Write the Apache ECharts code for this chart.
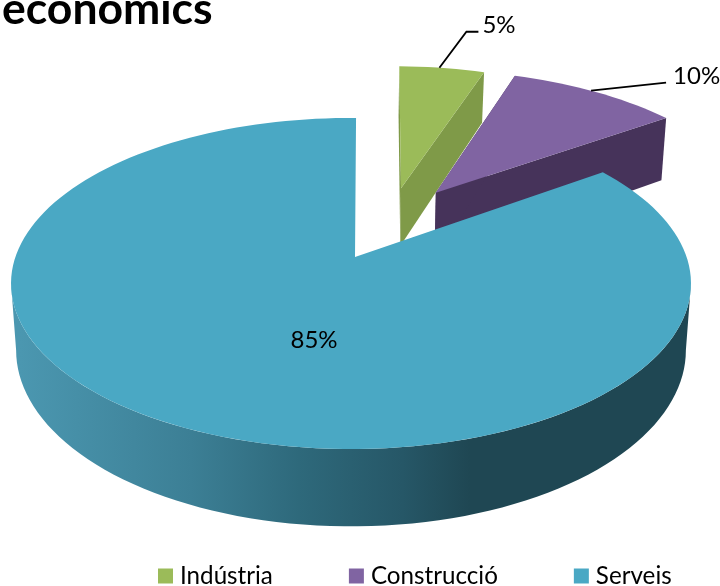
<!DOCTYPE html>
<html><head><meta charset="utf-8">
<script src="https://cdn.jsdelivr.net/npm/echarts@6/dist/echarts.min.js"></script>
<style>html,body{margin:0;padding:0;background:#fff}#c{width:720px;height:586px}</style></head>
<body><div id="c"></div>
<script>
const titleText = 'economics';
const categories = ['Indústria', 'Construcció', 'Serveis'];
const values = [5, 10, 85];
const topColors = ['#9bbb59', '#8064a2', '#4aa8c4'];
const wallColors = ['#7f9a48', '#46335a', '#1f4753'];

// Perspective layout of the pie
const CX = 351, CY = 257, RX = 335.6, RY = 161.3, P = 0.16, SHRINK = 0.985, START = 1;
const explodeX = [0.16, 0.27, 0];
const explodeY = [-0.458, -0.425, 0];
const apexShift = [0, 0, 4];
const depth = [62, 72, 65];
const labelFont = 'Lato';
const leaderAt = [0.47, 0.47, 0];
const elbows = [[[27, -36], [12, 0]], [[75, -8], [0, 0]], null];
const labelGap = [4, 7, 0];

const total = values.reduce((a, b) => a + b, 0);
const rad = d => d * Math.PI / 180;
function project(wx, wy, down) {
  const w = 1 - P * wy;
  const sx = RX * wx / w, sy = RY * wy / w;
  return down
    ? [CX + sx * SHRINK, CY + sy + down / w]
    : [CX + sx, CY + sy];
}
function ring(i, deg, down) {
  return project(Math.sin(rad(deg)) + explodeX[i], -Math.cos(rad(deg)) + explodeY[i], down);
}
function apex(i, down) {
  const p = project(explodeX[i], explodeY[i], down);
  return [p[0] + apexShift[i], p[1]];
}
function arc(i, a0, a1, down) {
  const pts = [], n = Math.max(8, Math.ceil(Math.abs(a1 - a0) / 2));
  for (let k = 0; k <= n; k++) pts.push(ring(i, a0 + (a1 - a0) * k / n, down));
  return pts;
}
const sweep = [];
values.reduce((acc, v, i) => {
  sweep[i] = [acc, acc + v / total * 360];
  return sweep[i][1];
}, START);

const wallGradient = new echarts.graphic.LinearGradient(20, 0, 470, 0, [
  { offset: 0, color: '#4b97b0' },
  { offset: 0.38, color: '#3c7f95' },
  { offset: 0.62, color: '#2e697b' },
  { offset: 0.85, color: '#265767' },
  { offset: 1, color: wallColors[2] }
], true);

// Angles where the perspective circle reaches its widest screen x
const silhouette = Math.acos(-P) * 180 / Math.PI;

function renderSlice(i, api) {
  const [a0, a1] = sweep[i];
  const children = [];
  const d = depth[i];
  if (i === 2) {
    const wall = arc(i, silhouette, 360 - silhouette).concat(arc(i, 360 - silhouette, silhouette, d));
    children.push({ type: 'polygon', shape: { points: wall }, style: { fill: wallGradient } });
  } else {
    const wall = [apex(i), ring(i, a1), ring(i, a1, d), apex(i, d)];
    children.push({ type: 'polygon', shape: { points: wall }, style: { fill: wallColors[i] } });
    children.push({ type: 'polygon', shape: { points: [apex(i), ring(i, a0), ring(i, a0, d), apex(i, d)] },
      style: { fill: wallColors[i] } });
  }
  const top = [apex(i)].concat(arc(i, a0, a1));
  children.push({ type: 'polygon', shape: { points: top }, style: { fill: topColors[i] } });

  const txt = api.value(0) + '%';
  if (elbows[i]) {
    const mid = ring(i, a0 + (a1 - a0) * leaderAt[i]);
    const e1 = [mid[0] + elbows[i][0][0], mid[1] + elbows[i][0][1]];
    const e2 = [e1[0] + elbows[i][1][0], e1[1] + elbows[i][1][1]];
    children.push({ type: 'polyline', shape: { points: [mid, e1, e2] }, style: { stroke: '#000', lineWidth: 1.8, fill: null } });
    children.push({ type: 'text', style: { text: txt, x: e2[0] + labelGap[i], y: e2[1] - 6, align: 'left', verticalAlign: 'middle',
      font: '24px ' + labelFont, fill: '#000' } });
  } else {
    children.push({ type: 'text', style: { text: txt, x: apex(i)[0] - 41, y: 340, align: 'center', verticalAlign: 'middle',
      font: '24px ' + labelFont, fill: '#000' } });
  }
  return { type: 'group', children };
}

const chart = echarts.init(document.getElementById('c'), null, { renderer: 'canvas' });
chart.setOption({
  animation: false,
  title: { text: titleText, left: 2, top: -13, padding: 0,
    textStyle: { fontFamily: 'Lato', fontWeight: 'bold', fontSize: 44.5, color: '#000' } },
  legend: { left: 158, top: 564, padding: 0, itemWidth: 15, itemHeight: 15, itemGap: 76, icon: 'rect',
    itemStyle: { borderWidth: 0 }, textStyle: { fontFamily: 'Lato', fontSize: 24.2, color: '#000', padding: [0, 0, 0, 2] },
    data: categories },
  series: categories.map((name, i) => ({
    type: 'custom', name, coordinateSystem: 'none', silent: true,
    itemStyle: { color: topColors[i] },
    data: [[values[i]]],
    renderItem: (params, api) => renderSlice(i, api)
  }))
});
</script></body></html>
